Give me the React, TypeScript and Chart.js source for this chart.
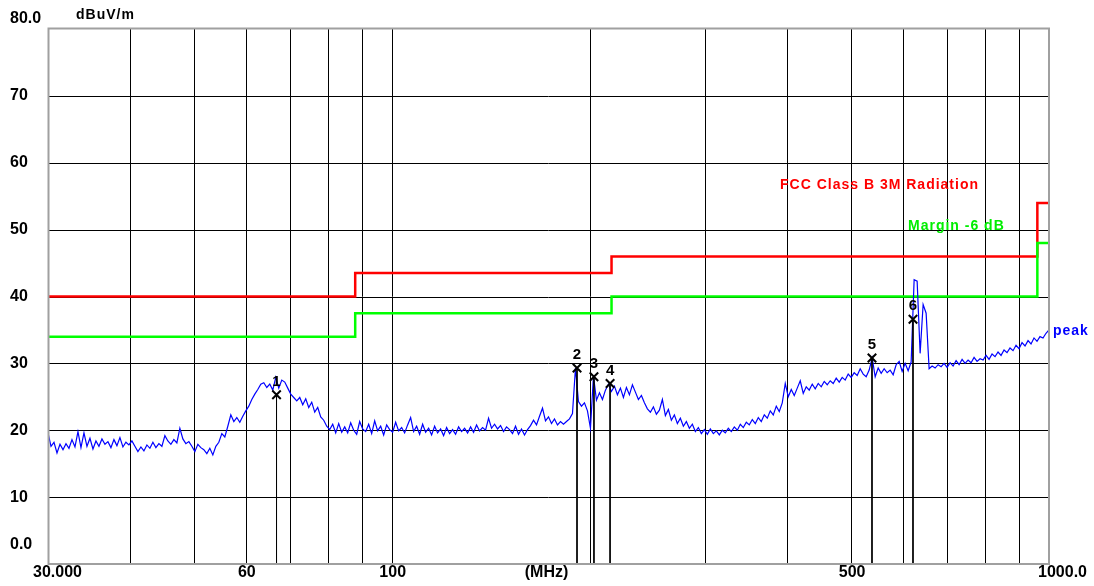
import React, { useEffect, useRef } from 'react';
import { Chart, registerables } from 'chart.js';

Chart.register(...registerables);

const sweepStartMHz = 30;
const sweepStopMHz = 1000;
const peakTrace = [
  19.6, 17.6, 18.2, 16.6, 17.9, 17.1, 18.0, 17.3, 18.6, 17.5, 19.8, 17.4, 19.6, 17.6, 18.8, 17.2, 18.4, 17.6, 18.7, 17.9,
  18.3, 17.4, 18.6, 17.7, 18.9, 17.5, 18.2, 17.8, 18.4, 17.6, 16.8, 17.5, 16.9, 17.8, 17.3, 18.2, 17.4, 18.0, 17.6, 19.2,
  18.4, 17.9, 18.6, 18.1, 20.3, 18.7, 18.0, 18.3, 17.6, 16.8, 17.9, 17.4, 17.1, 16.5, 17.3, 16.3, 17.6, 18.2, 19.5, 19.0,
  20.6, 22.3, 21.3, 21.9, 21.2, 22.1, 22.9, 23.6, 24.6, 25.4, 26.1, 26.9, 27.1, 26.4, 26.9, 26.0, 27.9, 26.3, 27.5, 27.2,
  26.3, 25.4, 24.9, 24.4, 24.9, 23.8, 24.7, 23.4, 24.2, 22.7, 23.4, 22.0, 21.5, 20.6, 20.1, 20.9, 19.6, 21.0, 19.7, 20.5,
  19.6, 21.1, 20.0, 19.4, 21.3, 20.2, 19.8, 20.9, 19.5, 21.4, 19.9, 20.6, 19.3, 20.8, 20.1, 19.7, 21.2, 19.9, 20.4, 19.6,
  20.8, 21.9, 19.8, 20.6, 19.4, 20.9, 19.7, 20.3, 19.3, 20.6, 19.6, 20.2, 19.2, 20.4, 19.5, 20.1, 19.4, 20.5, 19.8, 20.3,
  19.6, 20.5, 19.7, 20.8, 19.9, 20.4, 20.0, 21.8, 20.3, 20.9, 20.2, 20.7, 19.8, 20.5, 20.1, 19.5, 20.6, 19.4, 20.2, 19.3,
  20.1, 20.7, 21.5, 20.8, 22.1, 23.3, 21.4, 22.0, 21.0, 21.7, 20.8, 21.3, 20.9, 21.3, 21.7, 22.5, 29.3, 24.3, 23.6, 24.1,
  22.9, 20.3, 28.1, 24.5, 25.6, 24.6, 26.0, 26.9, 25.8, 26.6, 25.3, 26.3, 24.9, 26.4, 25.3, 26.8, 25.7, 24.6, 25.2, 24.1,
  23.2, 22.7, 23.5, 22.4, 23.0, 24.6, 22.2, 23.1, 21.5, 22.3, 21.0, 21.8, 20.6, 21.3, 20.3, 20.9, 19.8, 20.4, 19.5, 20.1,
  19.4, 20.2, 19.5, 19.9, 19.3, 20.0, 19.6, 20.3, 19.8, 20.5, 20.0, 20.9, 20.4, 21.2, 20.8, 21.6, 21.0, 21.9, 21.3, 22.3,
  21.8, 22.9, 22.3, 23.6, 22.8, 24.1, 27.0, 25.0, 26.1, 25.2, 26.3, 27.4, 25.5, 26.5, 26.0, 26.9, 26.2, 27.0, 26.5, 27.3,
  26.8, 27.4, 27.0, 27.8, 27.2, 27.9, 27.5, 28.4, 27.9, 28.6, 28.2, 29.2, 28.4, 28.0, 29.0, 30.8, 28.0, 29.3, 28.5, 29.2,
  28.6, 29.0, 28.3, 29.8, 30.3, 28.8, 30.0, 28.9, 30.2, 42.5, 42.3, 31.5, 38.8, 37.5, 29.2, 29.6, 29.3, 29.8, 29.5, 30.0,
  29.4, 30.1, 29.6, 30.4, 29.8, 30.6, 30.0, 30.5, 30.1, 30.9, 30.3, 30.7, 30.5, 31.2, 30.6, 31.4, 31.0, 31.7, 31.2, 32.0,
  31.6, 32.3, 31.9, 32.7, 32.2, 33.1, 32.6, 33.4, 32.9, 33.8, 33.3, 34.0, 33.8, 34.5, 35.0,
];

// Limit lines (step starts at each frequency)
const limitFreqs = [30, 88, 216, 960, 1000];
const fccLimit = [40, 43.5, 46, 54, 54];
const marginLimit = [34, 37.5, 40, 48, 48];

// Markers
const markerLabels = ['1', '2', '3', '4', '5', '6'];
const markerFreqs = [66.8, 191.4, 203.1, 214.9, 537.9, 621.0];
const markerLevels = [25.3, 29.3, 28.0, 27.0, 30.8, 36.6];

// Axes
const xGridValues = [40, 50, 60, 70, 80, 90, 100, 200, 300, 400, 500, 600, 700, 800, 900];
const yGridValues = [10, 20, 30, 40, 50, 60, 70];
const yTickValues = [80, 70, 60, 50, 40, 30, 20, 10, 0];
const yTickLabels = ['80.0', '70', '60', '50', '40', '30', '20', '10', '0.0'];
const xTickValues = [30, 60, 100, 500, 1000];
const xTickLabels = ['30.000', '60', '100', '500', '1000.0'];
const xUnitLabel = '(MHz)';
const yUnitLabel = 'dBuV/m';
const limitName = 'FCC Class B 3M Radiation';
const marginName = 'Margin -6 dB';
const traceName = 'peak';

const FONT = '"Liberation Sans", Arial, sans-serif';

const overlayPlugin = {
  id: 'emcOverlay',
  beforeDatasetsDraw(chart: any) {
    const { ctx, chartArea: a, scales } = chart;
    const x = scales.x;
    const y = scales.y;
    ctx.save();
    ctx.strokeStyle = '#000000';
    ctx.lineWidth = 1;
    ctx.beginPath();
    for (const v of xGridValues) {
      const px = Math.round(x.getPixelForValue(v)) + 0.5;
      ctx.moveTo(px, a.top);
      ctx.lineTo(px, a.bottom);
    }
    for (const v of yGridValues) {
      const py = Math.round(y.getPixelForValue(v)) + 0.5;
      ctx.moveTo(a.left, py);
      ctx.lineTo(a.right, py);
    }
    ctx.stroke();
    ctx.restore();
  },
  afterDatasetsDraw(chart: any) {
    const { ctx, chartArea: a, scales } = chart;
    const x = scales.x;
    const y = scales.y;
    ctx.save();

    // frame
    ctx.strokeStyle = '#a0a0a0';
    ctx.lineWidth = 2;
    ctx.strokeRect(a.left + 0.5, a.top - 0.5, a.right - a.left - 0.5, a.bottom - a.top + 0.5);

    // y tick labels
    ctx.fillStyle = '#000000';
    ctx.font = `bold 16px ${FONT}`;
    ctx.textBaseline = 'middle';
    ctx.textAlign = 'left';
    yTickValues.forEach((v, i) => {
      let py = y.getPixelForValue(v);
      if (i === 0) py -= 10;
      if (i === yTickValues.length - 1) py -= 19;
      ctx.fillText(yTickLabels[i], 10, py);
    });

    // x tick labels
    const ly = a.bottom + 9;
    xTickValues.forEach((v, i) => {
      const px = x.getPixelForValue(v);
      if (i === 0) {
        ctx.textAlign = 'left';
        ctx.fillText(xTickLabels[i], px - 15, ly);
      } else if (i === xTickValues.length - 1) {
        ctx.textAlign = 'right';
        ctx.fillText(xTickLabels[i], px + 38, ly);
      } else {
        ctx.textAlign = 'center';
        ctx.fillText(xTickLabels[i], px + 1, ly);
      }
    });
    ctx.textAlign = 'center';
    ctx.fillText(xUnitLabel, (a.left + a.right) / 2 - 2, ly);

    // y unit
    ctx.font = `bold 14px ${FONT}`;
    (ctx as any).letterSpacing = '1px';
    ctx.textAlign = 'left';
    ctx.fillText(yUnitLabel, 76, 15);

    // legend-like texts
    ctx.fillStyle = '#ff0000';
    ctx.fillText(limitName, 780, 185);
    ctx.fillStyle = '#00ee00';
    ctx.fillText(marginName, 908, 226);
    ctx.fillStyle = '#0000ff';
    ctx.fillText(traceName, a.right + 4, y.getPixelForValue(peakTrace[peakTrace.length - 1]) + 1);
    (ctx as any).letterSpacing = '0px';

    // marker numbers
    ctx.fillStyle = '#000000';
    ctx.font = `bold 15px ${FONT}`;
    ctx.textAlign = 'center';
    markerLabels.forEach((lab, i) => {
      const px = x.getPixelForValue(markerFreqs[i]);
      const py = y.getPixelForValue(markerLevels[i]);
      ctx.fillText(lab, px, py - 13);
    });
    ctx.restore();
  },
};

export default function App() {
  const canvasRef = useRef<HTMLCanvasElement | null>(null);

  useEffect(() => {
    if (!canvasRef.current) return;
    const n = peakTrace.length;
    const ratio = sweepStopMHz / sweepStartMHz;
    const traceData = peakTrace.map((v, i) => ({
      x: sweepStartMHz * Math.pow(ratio, i / (n - 1)),
      y: v,
    }));
    const fccData = limitFreqs.map((f, i) => ({ x: f, y: fccLimit[i] }));
    const marginData = limitFreqs.map((f, i) => ({ x: f, y: marginLimit[i] }));
    const markerPts = markerFreqs.map((f, i) => ({ x: f, y: markerLevels[i] }));
    const markerLineData: any[] = [];
    markerFreqs.forEach((f, i) => {
      markerLineData.push({ x: f, y: markerLevels[i] });
      markerLineData.push({ x: f, y: 0 });
      markerLineData.push({ x: f, y: null });
    });

    const chart = new Chart(canvasRef.current, {
      type: 'line',
      data: {
        datasets: [
          {
            label: 'markers',
            data: markerPts,
            showLine: false,
            pointStyle: 'crossRot',
            pointRadius: 6,
            pointBorderColor: '#000000',
            pointBackgroundColor: '#000000',
            pointBorderWidth: 2,
            order: 0,
          } as any,
          {
            label: 'marker lines',
            data: markerLineData,
            borderColor: '#000000',
            borderWidth: 1,
            pointRadius: 0,
            spanGaps: false,
            order: 1,
          },
          {
            label: traceName,
            data: traceData,
            borderColor: '#0000ff',
            borderWidth: 1.2,
            pointRadius: 0,
            tension: 0,
            order: 2,
          },
          {
            label: marginName,
            data: marginData,
            stepped: true,
            borderColor: '#00ff00',
            borderWidth: 2.5,
            pointRadius: 0,
            order: 3,
          },
          {
            label: limitName,
            data: fccData,
            stepped: true,
            borderColor: '#ff0000',
            borderWidth: 2.5,
            pointRadius: 0,
            order: 4,
          },
        ],
      },
      options: {
        responsive: true,
        maintainAspectRatio: false,
        animation: false,
        parsing: true,
        layout: { padding: { left: 48, right: 45, top: 29, bottom: 22 } },
        plugins: {
          legend: { display: false },
          tooltip: { enabled: false },
        },
        scales: {
          x: { type: 'logarithmic', min: sweepStartMHz, max: sweepStopMHz, display: false },
          y: { type: 'linear', min: 0, max: 80, display: false },
        },
      },
      plugins: [overlayPlugin],
    });
    return () => chart.destroy();
  }, []);

  return (
    <div style={{ position: 'fixed', left: 0, top: 0, width: 1094, height: 586, background: '#ffffff' }}>
      <canvas ref={canvasRef} />
    </div>
  );
}
